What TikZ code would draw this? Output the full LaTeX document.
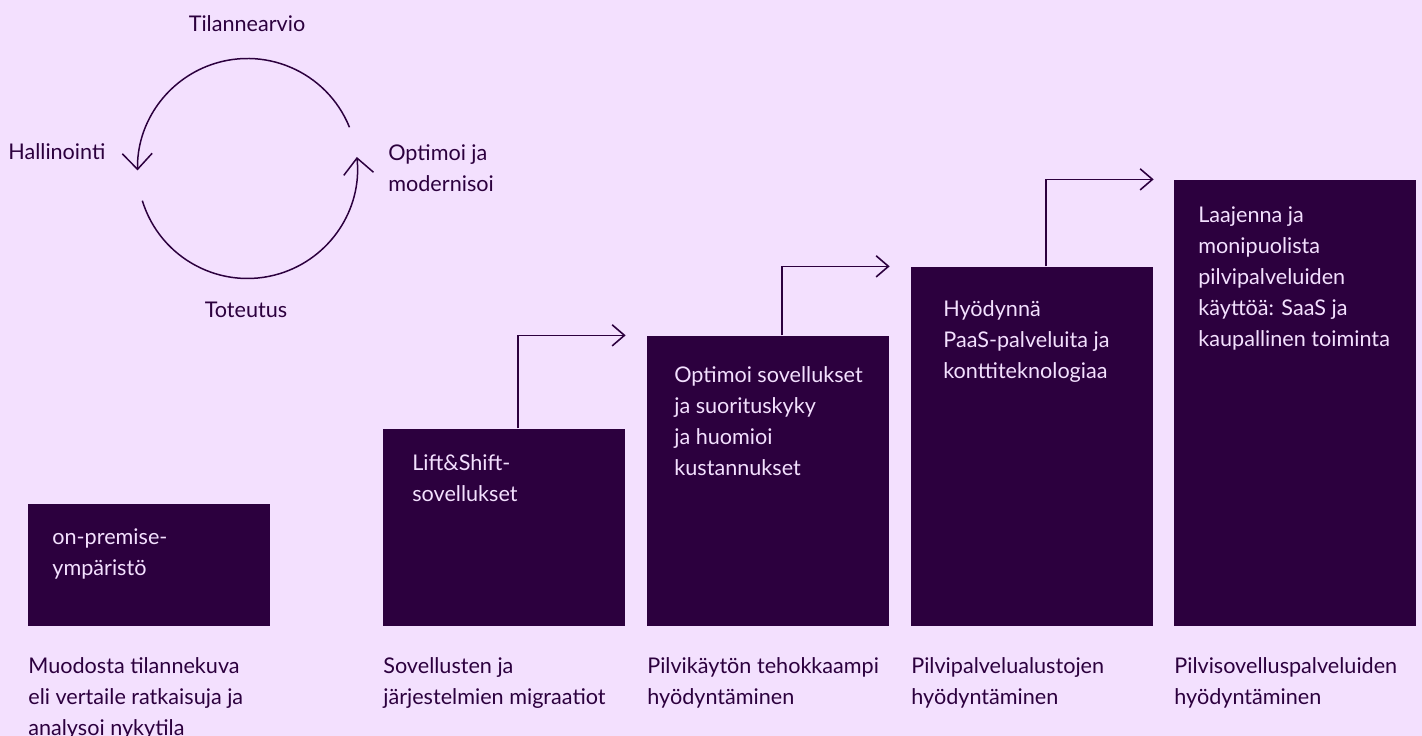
\documentclass[tikz,border=0pt]{standalone}
\usepackage{fontspec}
\setmainfont{Lato}
\usepackage{tikz}
\usetikzlibrary{arrows.meta,positioning}
\definecolor{bgpink}{HTML}{F3E0FE}
\definecolor{deeppurple}{HTML}{2C003E}

\begin{document}
\begin{tikzpicture}[
		x=0.02cm, y=0.02cm,
		font=\fontsize{12.3}{17.6}\selectfont,
		stage/.style={fill=deeppurple, draw=none, minimum width=4.84cm, inner sep=0pt, anchor=south west},
		stagetext/.style={anchor=north west, align=left, inner sep=0pt, text=bgpink},
		caption/.style={anchor=north west, align=left, inner sep=0pt, text=deeppurple},
		cyclabel/.style={inner sep=0pt, text=deeppurple},
		cyc/.style={draw=deeppurple, line width=0.85pt, -{Straight Barb[length=9pt,width=17pt]}},
		stepup/.style={draw=deeppurple, line width=0.9pt, -{Straight Barb[length=7pt,width=12pt]}}]
		% Background
		\fill[bgpink] (0,0) rectangle (1422,736);
		\useasboundingbox (0,0) rectangle (1422,736);
		
		% Cycle
		\coordinate (cyc) at (247.5,567.5);
		\draw[cyc] (cyc) ++(22:2.2cm) arc[start angle=22, end angle=181, radius=2.2cm];
		\draw[cyc] (cyc) ++(197:2.2cm) arc[start angle=197, end angle=366, radius=2.2cm];
		\node[cyclabel, anchor=base] (tilanne) at (247,704) {Tilannearvio};
		\node[cyclabel, anchor=base west] (hallinto) at (8,576) {Hallinointi};
		\node[cyclabel, anchor=north west, align=left] (optimoi) at (388,592) {Optimoi ja\\modernisoi};
		\node[cyclabel, anchor=base] (toteutus) at (246,418) {Toteutus};
		
		% Stages
		\node[stage, minimum height=2.44cm] (onprem) at (28,110) {};
		\node[stage, minimum height=3.94cm] (lift) at (383,110) {};
		\node[stage, minimum height=5.80cm] (optim) at (647,110) {};
		\node[stage, minimum height=7.18cm] (paas) at (911,110) {};
		\node[stage, minimum height=8.92cm] (saas) at (1174,110) {};
		
		\node[stagetext] (onpremtext) at ([shift={(24,-25)}]onprem.north west) {on-premise-\\ympäristö};
		\node[stagetext] (lifttext) at ([shift={(29,-26)}]lift.north west) {Lift\&Shift-\\sovellukset};
		\node[stagetext] (optimtext) at ([shift={(27,-31)}]optim.north west) {Optimoi sovellukset\\ja suorituskyky\\ja huomioi\\kustannukset};
		\node[stagetext] (paastext) at ([shift={(32,-34)}]paas.north west) {Hyödynnä\\PaaS-palveluita ja\\konttiteknologiaa};
		\node[stagetext] (saastext) at ([shift={(24,-27)}]saas.north west) {Laajenna ja\\monipuolista\\pilvipalveluiden\\käyttöä: SaaS ja\\kaupallinen toiminta};
		
		% Captions
		\node[caption] (onpremcap) at ([yshift=-0.62cm]onprem.south west) {Muodosta tilannekuva\\eli vertaile ratkaisuja ja\\analysoi nykytila};
		\node[caption] (liftcap) at ([yshift=-0.62cm]lift.south west) {Sovellusten ja\\järjestelmien migraatiot};
		\node[caption] (optimcap) at ([yshift=-0.62cm]optim.south west) {Pilvikäytön tehokkaampi\\hyödyntäminen};
		\node[caption] (paascap) at ([yshift=-0.62cm]paas.south west) {Pilvipalvelualustojen\\hyödyntäminen};
		\node[caption] (saascap) at ([yshift=-0.62cm]saas.south west) {Pilvisovelluspalveluiden\\hyödyntäminen};
		
		% Step arrows
		\draw[stepup] ([xshift=2.7cm]lift.north west) |- (lift.north east |- optim.north);
		\draw[stepup] ([xshift=2.7cm]optim.north west) |- (optim.north east |- paas.north);
		\draw[stepup] ([xshift=2.7cm]paas.north west) |- (paas.north east |- saas.north);
		
\end{tikzpicture}
\end{document}
